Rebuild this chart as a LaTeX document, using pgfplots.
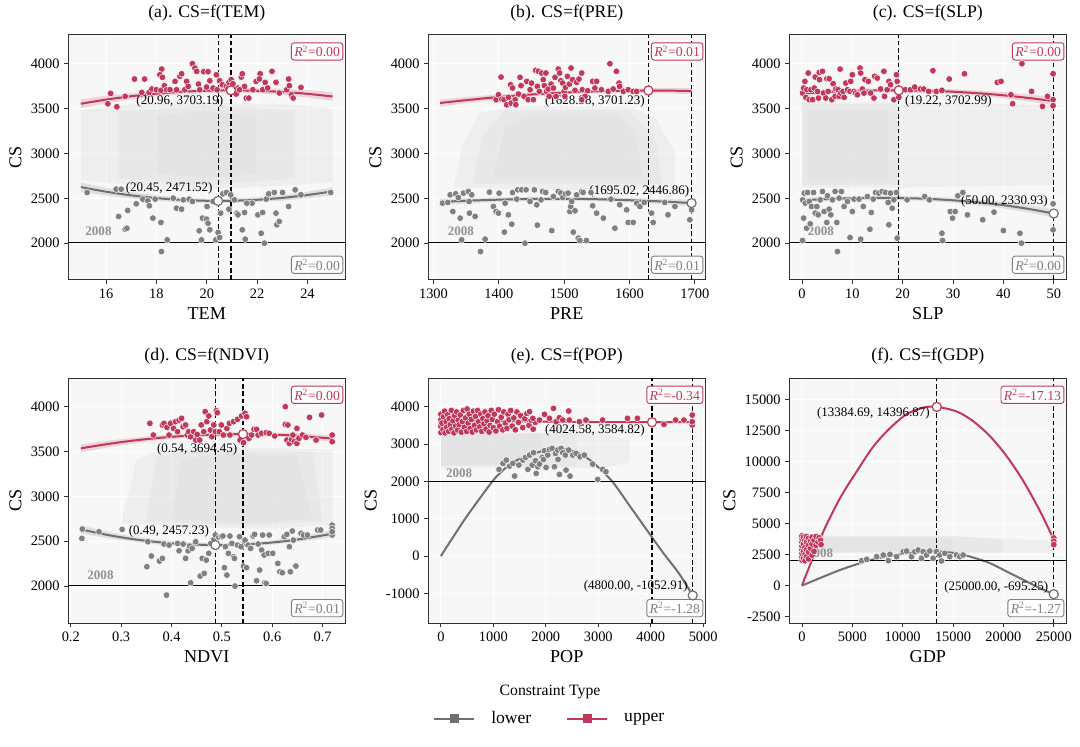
\documentclass[border=0pt]{standalone}
\usepackage{fontspec}
\setmainfont{Liberation Serif}
\usepackage{pgfplots}
\pgfplotsset{compat=1.18}
\definecolor{redc}{RGB}{194,56,90}
\definecolor{grayp}{RGB}{128,128,128}
\definecolor{grayl}{RGB}{112,112,112}
\definecolor{bgc}{RGB}{247,247,247}
\definecolor{cloudc}{RGB}{218,218,218}
\definecolor{framec}{RGB}{50,50,50}
\definecolor{yearc}{RGB}{145,145,145}
\newcommand{\rtwo}[1]{\textit{R}\textsuperscript{2}=#1}
\tikzset{
  rbox/.style={draw=#1, text=#1, fill=white, rounded corners=2pt, line width=0.7pt, inner sep=2.2pt, font=\fontsize{10.3}{11}\selectfont},
  annot/.style={font=\fontsize{9.75}{11}\selectfont, inner sep=1pt},
  yearlab/.style={font=\fontsize{9.8}{11}\selectfont\bfseries, text=yearc, inner sep=0pt},
}
\pgfplotsset{
  panel/.style={
    width=207.75pt, height=183.75pt, scale only axis, anchor=south west,
    axis background/.style={fill=bgc},
    axis line style={draw=framec, line width=0.75pt},
    tick align=outside, xtick pos=bottom, ytick pos=left,
    major tick length=3pt, tick style={draw=framec, line width=0.6pt},
    grid=major, grid style={draw=white, line width=0.7pt},
    tick label style={font=\fontsize{10.8}{12}\selectfont},
    /pgf/number format/assume math mode=true,
    /pgf/number format/1000 sep={},
    scaled ticks=false,
    title style={font=\fontsize{13.3}{15}\selectfont, yshift=1pt},
    label style={font=\fontsize{13.6}{15}\selectfont},
    ylabel={CS},
  },
  redpts/.style={only marks, mark=*, mark size=2.5pt, mark options={fill=redc, draw=white, line width=0.35pt}},
  graypts/.style={only marks, mark=*, mark size=2.5pt, mark options={fill=grayp, draw=white, line width=0.35pt}},
  redcurve/.style={redc, line width=1.5pt, smooth, no markers},
  graycurve/.style={grayl, line width=1.5pt, smooth, no markers},
  redband/.style={fill=redc, fill opacity=0.18, draw=none},
  grayband/.style={fill=gray, fill opacity=0.2, draw=none},
  cloud/.style={fill=cloudc, fill opacity=0.28, draw=none},
  vline/.style={black, line width=0.9pt, dash pattern=on 3.5pt off 2pt},
  hline/.style={black, line width=0.8pt},
  optR/.style={only marks, mark=*, mark size=3.4pt, mark options={fill=white, draw=redc, line width=0.9pt}},
  optG/.style={only marks, mark=*, mark size=3.4pt, mark options={fill=white, draw=grayl, line width=0.9pt}},
}
\begin{document}
\begin{tikzpicture}
\useasboundingbox (0,0) rectangle (810pt,559.5pt);

% ---------------- (a) TEM ----------------
\begin{axis}[panel, at={(51.2pt,349.5pt)}, xmin=14.5, xmax=25.5, ymin=1590, ymax=4320,
  xtick={16,18,20,22,24}, ytick={2000,2500,3000,3500,4000},
  title={(a). CS=f(TEM)}, xlabel={TEM}]
\addplot[cloud] coordinates {(15,2700)(15,3480)(17,3550)(20,3560)(23,3550)(25,3500)(25,2680)(23,2640)(20,2600)(17,2650)};
\addplot[cloud] coordinates {(16.5,2720)(16.5,3470)(20,3530)(23.5,3480)(23.5,2720)(20,2650)};
\addplot[cloud] coordinates {(18,2780)(18,3420)(20,3470)(22,3420)(22,2780)(20,2730)};
\addplot[redband] coordinates {(15,3604)(16,3641)(17,3671)(18,3695)(19,3713)(20,3724)(21,3729)(22,3728)(23,3720)(24,3705)(25,3685)
 (25,3585)(24,3623)(23,3652)(22,3670)(21,3677)(20,3674)(19,3661)(18,3637)(17,3603)(16,3559)(15,3504)};
\addplot[grayband] coordinates {(15,2677)(16,2617)(17,2569)(18,2533)(19,2509)(20,2498)(21,2498)(22,2511)(23,2536)(24,2573)(25,2623)
 (25,2535)(24,2501)(23,2474)(22,2457)(21,2448)(20,2448)(19,2455)(18,2473)(17,2497)(16,2531)(15,2573)};
\addplot[redcurve] coordinates {(15,3554.0)(16,3599.9)(17,3637.3)(18,3666.4)(19,3687.0)(20,3699.3)(20.96,3703.2)(22,3698.6)(23,3685.7)(24,3664.4)(25,3634.6)};
\addplot[graycurve] coordinates {(15,2625.1)(16,2573.9)(17,2533.1)(18,2502.5)(19,2482.4)(20,2472.6)(20.45,2471.5)(21,2473.1)(22,2483.9)(23,2505.1)(24,2536.7)(25,2578.5)};
\addplot[redpts] coordinates {(16.07,3554)(16.18,3669)(16.43,3520)(16.76,3636)(17.13,3829)(17.42,3680)(17.53,3829)(17.71,3680)(17.82,3718)(18.0,3710)(18.18,3703)(18.21,3940)(18.14,3877)(18.24,3848)(18.32,3755)(18.41,3710)(18.54,3710)(18.74,3803)(18.8,3710)(18.93,3859)(19.0,3888)(19.13,3710)(19.2,3803)(19.26,3747)(19.43,4000)(19.53,3952)(19.6,3915)(19.67,3773)(19.72,3710)(19.88,3911)(20.05,3911)(19.99,3740)(20.12,3810)(20.25,3729)(20.38,3877)(20.41,3710)(20.51,3810)(20.62,3766)(20.78,3747)(20.88,3792)(20.97,3822)(21.04,3777)(21.12,3691)(21.17,3662)(21.24,3729)(21.37,3851)(21.41,3888)(21.5,3747)(21.57,3617)(21.67,3617)(21.83,3710)(21.96,3803)(22.12,3888)(22.09,3829)(22.22,3710)(22.32,3792)(22.42,3729)(22.59,3915)(22.75,3792)(22.88,3673)(23.17,3710)(23.25,3829)(23.28,3755)(23.36,3654)(23.43,3617)(23.74,3736)(21.3,3710)(20.84,3718)};
\addplot[graypts] coordinates {(15.25,2565)(16.4,2602)(16.6,2602)(16.5,2298)(16.76,2156)(16.83,2167)(16.86,2365)(17.2,2439)(17.46,2491)(17.66,2472)(17.72,2417)(17.86,2279)(18.18,2231)(18.2,1907)(18.43,2037)(18.67,2502)(18.8,2390)(19.0,2379)(19.07,2483)(19.3,2491)(19.43,2465)(19.7,2138)(19.79,2037)(19.83,2279)(19.99,2268)(20.05,2223)(20.12,2149)(20.01,2409)(20.25,2465)(20.36,2037)(20.45,2119)(20.51,2063)(20.55,2335)(20.64,2550)(20.78,2565)(20.88,2379)(20.95,2539)(21.1,2483)(21.2,2335)(21.24,2316)(21.41,2149)(21.5,2342)(21.53,2045)(21.8,2446)(22.03,2316)(22.16,2111)(22.22,2342)(22.29,2000)(22.36,2491)(22.46,2550)(22.68,2565)(22.75,2335)(22.78,2205)(22.88,2242)(23.01,2565)(23.25,2409)(23.51,2595)(23.74,2539)(24.92,2565)(17.95,2491)(21.59,2446)};
\addplot[hline] coordinates {(14.5,2008)(25.5,2008)};
\addplot[vline] coordinates {(20.45,1590)(20.45,4320)};
\addplot[vline] coordinates {(20.96,1590)(20.96,4320)};
\addplot[optR] coordinates {(20.96,3703.19)};
\addplot[optG] coordinates {(20.45,2471.52)};
\node[annot] at (axis cs:18.93,3580) {(20.96, 3703.19)};
\node[annot] at (axis cs:18.51,2606) {(20.45, 2471.52)};
\node[yearlab] at (axis cs:15.7,2130) {2008};
\node[rbox=redc, anchor=north east] at (rel axis cs:0.993,0.97) {\rtwo{0.00}};
\node[rbox=grayp, anchor=south east] at (rel axis cs:0.993,0.025) {\rtwo{0.00}};
\end{axis}

% ---------------- (b) PRE ----------------
\begin{axis}[panel, at={(321.2pt,349.5pt)}, xmin=1292, xmax=1716, ymin=1590, ymax=4320,
  xtick={1300,1400,1500,1600,1700}, ytick={2000,2500,3000,3500,4000},
  title={(b). CS=f(PRE)}, xlabel={PRE}]
\addplot[cloud] coordinates {(1330,2620)(1345,3100)(1370,3450)(1420,3520)(1600,3520)(1640,3400)(1670,3000)(1670,2620)(1500,2590)};
\addplot[cloud] coordinates {(1360,2660)(1375,3200)(1410,3480)(1600,3480)(1640,3150)(1650,2660)};
\addplot[cloud] coordinates {(1390,2720)(1410,3300)(1450,3430)(1580,3430)(1610,3200)(1620,2720)};
\addplot[redband] coordinates {(1310,3602)(1350,3628)(1400,3657)(1450,3681)(1500,3700)(1550,3714)(1600,3724)(1629,3727)(1660,3730)(1695,3731)
 (1695,3659)(1660,3670)(1629,3675)(1600,3676)(1550,3670)(1500,3656)(1450,3633)(1400,3601)(1350,3560)(1310,3522)};
\addplot[grayband] coordinates {(1310,2495)(1350,2503)(1400,2510)(1450,2515)(1500,2517)(1550,2512)(1600,2504)(1650,2495)(1695,2483)
 (1695,2411)(1650,2435)(1600,2454)(1550,2468)(1500,2473)(1450,2471)(1400,2460)(1350,2443)(1310,2425)};
\addplot[redcurve] coordinates {(1310,3562)(1350,3594)(1400,3629)(1450,3657)(1500,3678)(1550,3692)(1600,3700)(1629,3701)(1660,3700)(1695,3695)};
\addplot[graycurve] coordinates {(1310,2460)(1350,2473)(1400,2485)(1450,2493)(1500,2495)(1550,2490)(1600,2479)(1650,2465)(1695,2447)};
\addplot[redpts] coordinates {(1395.8,3599)(1399.4,3654)(1404.5,3606)(1403.4,3851)(1408,3599)(1412,3543)(1414.7,3625)(1418,3766)(1421,3729)(1418.7,3561)(1425,3599)(1426,3543)(1430,3662)(1432.5,3848)(1434,3755)(1438.6,3636)(1442.7,3803)(1445,3599)(1447.8,3710)(1450,3784)(1452.9,3599)(1456.4,3926)(1459,3747)(1462,3691)(1460.5,3915)(1465.6,3896)(1468,3822)(1469.7,3755)(1472,3896)(1473,3691)(1475.8,3718)(1477,3636)(1480,3773)(1483.5,3729)(1486,3848)(1487.5,3636)(1491,3940)(1493,3896)(1495,3810)(1497.7,3784)(1500,3691)(1502,3736)(1505,3859)(1508,3773)(1510.5,3952)(1513,3822)(1516.6,3703)(1519,3792)(1522.7,3829)(1526.8,3896)(1527.8,3710)(1532,3636)(1536,3699)(1543.6,3803)(1547,3729)(1549.7,3803)(1557,3710)(1570,4000)(1567.5,3691)(1575,3718)(1580,3915)(1584,3784)(1585,3747)(1590.5,3691)(1598,3710)(1605.7,3691)(1611,3691)(1526.8,3599)(1501,3636)};
\addplot[graypts] coordinates {(1313.8,2446)(1321.9,2454)(1325.5,2539)(1329.6,2353)(1334,2550)(1338,2509)(1340.8,2279)(1343,2037)(1345.9,2558)(1353.5,2576)(1354.5,2465)(1355,2335)(1358.6,2539)(1363.7,2298)(1372,1907)(1379,2045)(1385.6,2569)(1391.7,2409)(1395.8,2353)(1399.4,2335)(1400.4,2558)(1408.5,2123)(1409.6,2446)(1414.7,2316)(1419.8,2212)(1421,2565)(1427.4,2491)(1429,2595)(1435,2595)(1440,2000)(1441.7,2595)(1447.8,2465)(1454.4,2595)(1458,2428)(1459,2201)(1464.6,2483)(1467,2576)(1471.7,2565)(1481,2141)(1483.5,2520)(1491,2576)(1495,2558)(1497.7,2509)(1502,2550)(1506,2558)(1508.7,2353)(1510,2409)(1511.5,2465)(1516.6,2361)(1514,2123)(1519,2539)(1521.7,2056)(1524,2030)(1526.8,2576)(1529,2565)(1534,2030)(1541,2565)(1543.6,2417)(1549.7,2335)(1560,2279)(1571.6,2491)(1577.7,2167)(1585,2428)(1595.6,2372)(1598,2231)(1605.7,2231)(1611,2446)(1616,2409)(1622.6,2454)(1633.8,2335)(1636.3,2231)(1654,2454)(1659,2316)(1669.5,2409)(1692.4,2261)(1695,2372)};
\addplot[hline] coordinates {(1292,2008)(1716,2008)};
\addplot[vline] coordinates {(1628.98,1590)(1628.98,4320)};
\addplot[vline] coordinates {(1695.02,1590)(1695.02,4320)};
\addplot[optR] coordinates {(1628.98,3701.23)};
\addplot[optG] coordinates {(1695.02,2446.86)};
\node[annot] at (axis cs:1547,3580) {(1628.98, 3701.23)};
\node[annot] at (axis cs:1615,2576) {(1695.02, 2446.86)};
\node[yearlab] at (axis cs:1342,2130) {2008};
\node[rbox=redc, anchor=north east] at (rel axis cs:0.993,0.97) {\rtwo{0.01}};
\node[rbox=grayp, anchor=south east] at (rel axis cs:0.993,0.025) {\rtwo{0.01}};
\end{axis}

% ---------------- (c) SLP ----------------
\begin{axis}[panel, at={(592pt,349.5pt)}, xmin=-2.5, xmax=52.5, ymin=1590, ymax=4320,
  xtick={0,10,20,30,40,50}, ytick={2000,2500,3000,3500,4000},
  title={(c). CS=f(SLP)}, xlabel={SLP}]
\addplot[cloud] coordinates {(0,2620)(0,3570)(19,3570)(50,3540)(50,2650)(19,2620)};
\addplot[cloud] coordinates {(0,2650)(0,3550)(19,3550)(19,2650)};
\addplot[cloud] coordinates {(1,2700)(1,3500)(17,3500)(17,2700)};
\addplot[redband] coordinates {(0,3698)(5,3710)(10,3719)(15,3724)(19.22,3725)(25,3722)(30,3715)(35,3701)(40,3682)(45,3656)(50,3627)
 (50,3539)(45,3580)(40,3614)(35,3641)(30,3661)(25,3674)(19.22,3681)(15,3680)(10,3675)(5,3660)(0,3638)};
\addplot[grayband] coordinates {(0,2508)(5,2517)(10,2523)(15,2527)(20,2525)(25,2518)(30,2506)(35,2487)(40,2460)(45,2422)(50,2376)
 (50,2286)(45,2342)(40,2388)(35,2423)(30,2450)(25,2470)(20,2481)(15,2483)(10,2479)(5,2467)(0,2448)};
\addplot[redcurve] coordinates {(0,3668)(5,3685)(10,3697)(15,3702)(19.22,3703)(25,3698)(30,3688)(35,3671)(40,3648)(45,3618)(50,3583)};
\addplot[graycurve] coordinates {(0,2478)(5,2492)(10,2501)(15,2505)(20,2503)(25,2494)(30,2478)(35,2455)(40,2424)(45,2382)(50,2331)};
\addplot[redpts] coordinates {(0.13,3673)(0.33,3729)(0.59,3803)(0.79,3625)(0.99,3710)(1.25,3896)(1.45,3599)(1.78,3710)(2.11,3599)(2.44,3729)(2.64,3851)(3.1,3691)(3.29,3617)(3.49,3822)(3.43,3903)(4.08,3915)(4.28,3673)(4.74,3617)(4.94,3833)(5.2,3691)(5.4,3833)(5.93,3599)(6.19,3777)(6.59,3636)(6.72,3718)(7.18,3710)(7.38,3636)(7.58,3940)(7.71,3673)(8.17,3691)(8.37,3625)(8.7,3784)(9.03,3710)(9.55,3691)(9.68,3803)(10.01,3877)(10.34,3691)(10.67,3673)(11.0,3654)(11.53,3952)(11.66,3896)(12.0,3718)(12.32,3673)(12.52,3822)(13.18,3803)(13.64,3673)(14.3,3617)(14.43,3859)(14.95,3840)(15.61,3718)(16.27,3915)(16.4,3636)(16.93,3710)(17.26,3803)(17.59,3766)(18.25,3599)(18.77,3877)(18.91,3803)(19.24,3625)(20.55,3710)(21.54,3710)(22.4,3740)(23.52,3718)(24.18,3718)(25.16,3691)(26.0,3922)(26.68,3691)(27.8,3703)(29.25,3829)(32.28,3888)(38.8,3792)(39.53,3803)(41.5,3654)(41.83,3554)(43.68,4000)(45.59,3691)(47.76,3524)(48.75,3636)(49.87,3599)(49.87,3888)(49.87,3532)};
\addplot[graypts] coordinates {(0.13,2483)(0.33,2279)(0.46,2558)(0.66,2446)(0.92,2167)(1.12,2565)(1.45,2465)(1.65,2216)(1.91,2409)(2.31,2565)(2.64,2335)(2.96,2409)(3.23,2316)(3.62,2483)(4.08,2576)(4.41,2353)(4.94,2231)(5.07,2528)(5.4,2379)(5.73,2316)(6.06,2483)(6.59,2576)(6.92,2231)(7.05,1907)(7.38,2502)(7.84,2576)(8.37,2409)(9.03,2465)(9.55,2063)(10.01,2353)(10.34,2491)(11.33,2491)(11.66,2045)(12.19,2409)(13.0,2520)(13.5,2156)(13.77,2342)(14.16,2491)(14.62,2565)(15.28,2558)(15.94,2576)(16.6,2565)(17.13,2454)(17.26,2205)(17.59,2558)(17.92,2390)(18.25,2483)(18.77,2565)(18.91,2056)(20.88,2483)(24.37,2520)(25.3,2483)(27.8,2111)(27.93,2030)(29.45,2353)(29.9,2279)(30.43,2353)(30.96,2528)(31.95,2565)(32.87,2316)(35.9,2261)(38.14,2346)(40.0,2141)(43.28,2111)(43.6,2000)(49.87,2439)(49.87,2149)(0.13,2030)};
\addplot[hline] coordinates {(-2.5,2008)(52.5,2008)};
\addplot[vline] coordinates {(19.22,1590)(19.22,4320)};
\addplot[vline] coordinates {(50,1590)(50,4320)};
\addplot[optR] coordinates {(19.22,3702.99)};
\addplot[optG] coordinates {(50,2330.93)};
\node[annot] at (axis cs:29.1,3580) {(19.22, 3702.99)};
\node[annot] at (axis cs:40.2,2465) {(50.00, 2330.93)};
\node[yearlab] at (axis cs:3.75,2130) {2008};
\node[rbox=redc, anchor=north east] at (rel axis cs:0.993,0.97) {\rtwo{0.00}};
\node[rbox=grayp, anchor=south east] at (rel axis cs:0.993,0.025) {\rtwo{0.00}};
\end{axis}

% ---------------- (d) NDVI ----------------
\begin{axis}[panel, at={(51.2pt,92pt)}, xmin=0.195, xmax=0.745, ymin=1585, ymax=4316,
  xtick={0.2,0.3,0.4,0.5,0.6,0.7}, xticklabels={0.2,0.3,0.4,0.5,0.6,0.7}, ytick={2000,2500,3000,3500,4000},
  title={(d). CS=f(NDVI)}, xlabel={NDVI}]
\addplot[cloud] coordinates {(0.30,2700)(0.33,3400)(0.38,3530)(0.6,3540)(0.72,3520)(0.72,2680)(0.6,2640)(0.45,2650)};
\addplot[cloud] coordinates {(0.35,2720)(0.37,3450)(0.45,3510)(0.68,3500)(0.7,2720)(0.55,2680)};
\addplot[cloud] coordinates {(0.40,2750)(0.42,3400)(0.5,3480)(0.65,3450)(0.68,2750)(0.55,2700)};
\addplot[redband] coordinates {(0.22,3580)(0.27,3619)(0.32,3651)(0.37,3677)(0.42,3696)(0.47,3709)(0.54,3716)(0.6,3713)(0.65,3703)(0.72,3678)
 (0.72,3610)(0.65,3649)(0.6,3665)(0.54,3672)(0.47,3665)(0.42,3648)(0.37,3623)(0.32,3587)(0.27,3543)(0.22,3490)};
\addplot[grayband] coordinates {(0.22,2677)(0.27,2609)(0.32,2557)(0.37,2518)(0.42,2492)(0.49,2479)(0.55,2488)(0.6,2510)(0.65,2547)(0.72,2622)
 (0.72,2546)(0.65,2491)(0.6,2462)(0.55,2444)(0.49,2435)(0.42,2446)(0.37,2466)(0.32,2497)(0.27,2537)(0.22,2587)};
\addplot[redcurve] coordinates {(0.22,3535.4)(0.27,3581.2)(0.32,3619.3)(0.37,3649.6)(0.42,3672.1)(0.47,3686.8)(0.54,3694.5)(0.60,3688.9)(0.65,3675.7)(0.72,3644.1)};
\addplot[graycurve] coordinates {(0.22,2632.2)(0.27,2573.4)(0.32,2526.6)(0.37,2491.8)(0.42,2469)(0.49,2457.2)(0.55,2465.9)(0.60,2486.3)(0.65,2518.7)(0.72,2584.2)};
\addplot[redpts] coordinates {(0.357,3814)(0.364,3684)(0.382,3796)(0.385,3814)(0.391,3770)(0.395,3684)(0.398,3814)(0.404,3758)(0.408,3833)(0.412,3721)(0.415,3851)(0.42,3870)(0.423,3777)(0.428,3796)(0.431,3684)(0.434,3721)(0.438,3665)(0.444,3721)(0.448,3628)(0.451,3691)(0.456,3628)(0.459,3796)(0.464,3721)(0.467,3944)(0.47,3833)(0.474,3896)(0.477,3740)(0.48,3665)(0.484,3796)(0.487,3721)(0.489,3955)(0.491,3933)(0.495,3721)(0.499,3796)(0.503,3684)(0.51,3758)(0.515,3814)(0.516,3684)(0.523,3833)(0.531,3859)(0.536,3628)(0.539,3896)(0.543,3599)(0.546,3926)(0.549,3888)(0.554,3647)(0.559,3684)(0.564,3747)(0.569,3747)(0.572,3684)(0.579,3703)(0.588,3710)(0.594,3703)(0.605,3673)(0.626,4000)(0.626,3803)(0.631,3796)(0.629,3628)(0.634,3591)(0.638,3636)(0.641,3684)(0.644,3610)(0.649,3758)(0.649,3591)(0.653,3647)(0.66,3684)(0.667,3658)(0.674,3881)(0.687,3628)(0.698,3907)(0.719,3684)(0.719,3610)};
\addplot[graypts] coordinates {(0.222,2532)(0.223,2636)(0.256,2606)(0.302,2632)(0.351,2216)(0.353,2495)(0.36,2335)(0.376,2279)(0.382,2309)(0.385,2469)(0.39,1900)(0.395,2457)(0.412,2476)(0.415,2394)(0.423,2469)(0.428,2309)(0.433,2394)(0.436,2446)(0.438,2037)(0.441,2420)(0.448,2495)(0.457,2112)(0.461,2309)(0.465,2141)(0.469,2290)(0.474,2365)(0.478,2476)(0.484,2521)(0.487,2569)(0.494,2543)(0.499,2551)(0.502,2558)(0.505,2205)(0.507,2439)(0.51,2123)(0.513,2365)(0.516,2558)(0.52,2476)(0.523,2327)(0.525,2309)(0.526,2000)(0.531,2457)(0.535,2551)(0.538,2439)(0.543,2223)(0.546,2513)(0.549,2205)(0.552,2457)(0.557,2420)(0.562,2558)(0.565,2577)(0.569,2060)(0.572,2469)(0.575,2179)(0.579,2402)(0.581,2569)(0.584,2346)(0.585,2037)(0.588,2030)(0.592,2365)(0.594,2569)(0.601,2365)(0.611,2253)(0.615,2160)(0.62,2149)(0.624,2551)(0.629,2577)(0.634,2439)(0.636,2160)(0.64,2614)(0.642,2513)(0.647,2223)(0.657,2588)(0.662,2569)(0.67,2569)(0.69,2625)(0.696,2625)(0.719,2680)(0.719,2643)(0.719,2569)(0.719,2606)};
\addplot[hline] coordinates {(0.195,2008)(0.745,2008)};
\addplot[vline] coordinates {(0.487,1585)(0.487,4316)};
\addplot[vline] coordinates {(0.542,1585)(0.542,4316)};
\addplot[optR] coordinates {(0.542,3694.45)};
\addplot[optG] coordinates {(0.487,2457.23)};
\node[annot] at (axis cs:0.4509,3524) {(0.54, 3694.45)};
\node[annot] at (axis cs:0.395,2610) {(0.49, 2457.23)};
\node[yearlab] at (axis cs:0.259,2123) {2008};
\node[rbox=redc, anchor=north east] at (rel axis cs:0.993,0.97) {\rtwo{0.00}};
\node[rbox=grayp, anchor=south east] at (rel axis cs:0.993,0.025) {\rtwo{0.01}};
\end{axis}

% ---------------- (e) POP ----------------
\begin{axis}[panel, at={(321.2pt,92pt)}, xmin=-240, xmax=5040, ymin=-1800, ymax=4760,
  xtick={0,1000,2000,3000,4000,5000}, ytick={-1000,0,1000,2000,3000,4000},
  title={(e). CS=f(POP)}, xlabel={POP}]
\addplot[cloud] coordinates {(0,2350)(0,3300)(3000,3300)(3600,3100)(3600,2500)(3000,2350)};
\addplot[cloud] coordinates {(0,2400)(0,3290)(2600,3290)(2600,2400)};
\addplot[cloud] coordinates {(0,2450)(0,3280)(1900,3280)(1900,2450)};
\addplot[redband] coordinates {(0,3680)(1000,3650)(2000,3625)(3000,3610)(4024.58,3610)(4800,3618)
 (4800,3558)(4024.58,3560)(3000,3566)(2000,3575)(1000,3590)(0,3600)};
\addplot[redcurve] coordinates {(0,3640)(1000,3620)(2000,3600)(3000,3588)(4024.58,3584.82)(4800,3588)};
\addplot[graycurve] coordinates {(0,0)(424,920)(741,1545)(1057,2125)(1373,2509)(1690,2705)(2006,2839)(2196,2870)(2449,2839)(2703,2705)(2956,2437)(3272,1991)(3589,1366)(3905,741)(4222,116)(4538,-464)(4800,-1053)};
\addplot[redpts] coordinates {(0,3310)(0,3480)(0,3650)(0,3800)(20,3560)(40,3390)(50,3730)(70,3880)(80,3300)(100,3600)(110,3450)(130,3780)(150,3340)(160,3680)(180,3520)(200,3900)(210,3400)(230,3620)(250,3300)(260,3760)(280,3480)(300,3860)(320,3380)(330,3640)(350,3520)(370,3780)(390,3320)(410,3600)(430,3900)(450,3450)(470,3700)(490,3340)(500,3940)(520,3560)(540,3800)(560,3420)(580,3660)(600,3320)(620,3880)(640,3500)(660,3740)(680,3380)(700,3900)(720,3600)(740,3460)(760,3800)(780,3340)(800,3680)(820,3540)(840,3860)(860,3400)(880,3620)(900,3760)(920,3320)(940,3500)(960,3900)(980,3660)(1000,3440)(1020,3800)(1050,3350)(1080,3600)(1100,3920)(1120,3480)(1150,3720)(1180,3380)(1200,3860)(1230,3560)(1260,3420)(1280,3800)(1300,3650)(1330,3900)(1360,3480)(1390,3700)(1420,3380)(1450,3860)(1480,3580)(1520,3760)(1560,3440)(1600,3680)(1640,3820)(1680,3500)(1720,3640)(1760,3400)(1800,3580)
 (1690,3866)(1753,3688)(1880,3643)(1975,3795)(2070,3688)(2146,3955)(2196,3598)(2259,3705)(2323,3643)(2437,3884)(2449,3643)(2639,3598)(2766,3643)(3082,3643)(3557,3688)(3747,3688)(4253,3527)(4475,3643)(4633,3643)(4791,3777)(4791,3509)(4791,3598)};
\addplot[graypts] coordinates {(1108,2321)(1184,2482)(1247,2571)(1310,2411)(1373,2482)(1405,2143)(1487,2437)(1563,2571)(1614,2643)(1658,2321)(1690,2705)(1741,2437)(1766,2768)(1804,2553)(1817,2214)(1848,2393)(1880,2464)(1931,2643)(1956,2589)(1975,2821)(2006,2375)(2038,2705)(2070,2857)(2120,2884)(2165,2393)(2184,2750)(2228,2839)(2260,2187)(2291,2884)(2323,2768)(2374,2705)(2437,2839)(2462,2143)(2513,2705)(2576,2750)(2652,2661)(2735,2705)(2893,2464)(2988,2053)(3083,2321)(3146,2259)(2386,2303)(2234,2589)};
\addplot[hline] coordinates {(-240,2008)(5040,2008)};
\addplot[vline] coordinates {(4024.58,-1800)(4024.58,4760)};
\addplot[vline] coordinates {(4800,-1800)(4800,4760)};
\addplot[optR] coordinates {(4024.58,3584.82)};
\addplot[optG] coordinates {(4800,-1052.91)};
\node[annot] at (axis cs:2937,3375) {(4024.58, 3584.82)};
\node[annot] at (axis cs:3715,-804) {(4800.00, -1052.91)};
\node[yearlab] at (axis cs:348,2232) {2008};
\node[rbox=redc, anchor=north east] at (rel axis cs:0.993,0.97) {\rtwo{-0.34}};
\node[rbox=grayp, anchor=south east] at (rel axis cs:0.993,0.025) {\rtwo{-1.28}};
\end{axis}

% ---------------- (f) GDP ----------------
\begin{axis}[panel, at={(592pt,92pt)}, xmin=-1250, xmax=26250, ymin=-3040, ymax=16690,
  xtick={0,5000,10000,15000,20000,25000}, ytick={-2500,0,2500,5000,7500,10000,12500,15000},
  title={(f). CS=f(GDP)}, xlabel={GDP}]
\addplot[cloud] coordinates {(0,2600)(0,4000)(15000,4000)(25000,3600)(25000,2700)(15000,2600)};
\addplot[cloud] coordinates {(500,2700)(500,3950)(15000,3950)(20000,3700)(20000,2700)};
\addplot[cloud] coordinates {(1000,2800)(1000,3900)(13000,3900)(15000,3700)(15000,2800)};
\addplot[redcurve] coordinates {(0,0)(821,1698)(2141,4376)(3790,7052)(5439,9193)(7088,11200)(8737,12672)(10386,13796)(12035,14331)(13384.69,14396.87)(15403,14007)(17052,13204)(18701,12000)(20350,10394)(21999,8387)(23648,5979)(25000,3704)};
\addplot[graycurve] coordinates {(0,0)(2141,723)(3790,1258)(5439,1713)(7088,2114)(8737,2382)(10386,2596)(12035,2730)(13384,2750)(15403,2596)(17052,2248)(18701,1793)(20350,1124)(21999,455)(23648,-214)(25000,-695.25)};
\addplot[redpts] coordinates {(0,2050)(0,2300)(0,2600)(0,2900)(0,3200)(0,3500)(0,3800)(0,4000)(150,2200)(150,2750)(150,3350)(150,3900)(300,2000)(300,2500)(300,3050)(300,3650)(450,2350)(450,2900)(450,3500)(450,3950)(650,2150)(650,2700)(650,3250)(650,3800)(850,3000)(850,3600)(1000,2450)(1000,3350)(1000,3900)(1200,2750)(1200,3650)(1400,3250)(1400,3950)(1600,3500)(1700,3850)(1850,3650)(1900,3300)(25000,3840)(25000,3572)(25000,3305)};
\addplot[graypts] coordinates {(5937,2000)(6431,2114)(7420,2328)(8080,2462)(8575,2007)(8740,2515)(9400,2328)(10060,2730)(10386,2783)(10880,2328)(11210,2730)(11540,2863)(11870,2195)(12035,2730)(12365,2462)(12695,2783)(13025,2195)(13355,2730)(13685,2462)(13850,1981)(14180,2596)(14675,2328)(15336,2462)(15666,2328)(15996,2462)};
\addplot[hline] coordinates {(-1250,2008)(26250,2008)};
\addplot[vline] coordinates {(13384.69,-3040)(13384.69,16690)};
\addplot[vline] coordinates {(25000,-3040)(25000,16690)};
\addplot[optR] coordinates {(13384.69,14396.87)};
\addplot[optG] coordinates {(25000,-695.25)};
\node[annot] at (axis cs:7091,13873) {(13384.69, 14396.87)};
\node[annot] at (axis cs:19294,-122) {(25000.00, -695.25)};
\node[yearlab] at (axis cs:1814,2581) {2008};
\node[rbox=redc, anchor=north east] at (rel axis cs:0.993,0.97) {\rtwo{-17.13}};
\node[rbox=grayp, anchor=south east] at (rel axis cs:0.993,0.025) {\rtwo{-1.27}};
\end{axis}

% ---------------- legend ----------------
\node[font=\fontsize{11.8}{13}\selectfont] at (412.5pt,40.5pt) {Constraint Type};
\begin{axis}[at={(412.5pt,20.5pt)}, anchor=center, hide axis, width=10pt, height=10pt, scale only axis,
  xmin=0, xmax=1, ymin=0, ymax=1,
  legend style={at={(0.5,0.5)}, anchor=center, draw=none, fill=none, legend columns=2,
    font=\fontsize{13.2}{15}\selectfont,
    /tikz/every odd column/.append style={column sep=10pt},
    /tikz/every even column/.append style={column sep=24pt}},
  legend image code/.code={\draw[mark repeat=2,mark phase=2,#1] plot coordinates {(0cm,0cm) (0.53cm,0cm) (1.06cm,0cm)};}]
\addlegendimage{grayl, line width=1.5pt, mark=square*, mark size=2.6pt}
\addlegendentry{lower}
\addlegendimage{redc, line width=1.5pt, mark=square*, mark size=2.6pt}
\addlegendentry{upper}
\end{axis}
\end{tikzpicture}
\end{document}
